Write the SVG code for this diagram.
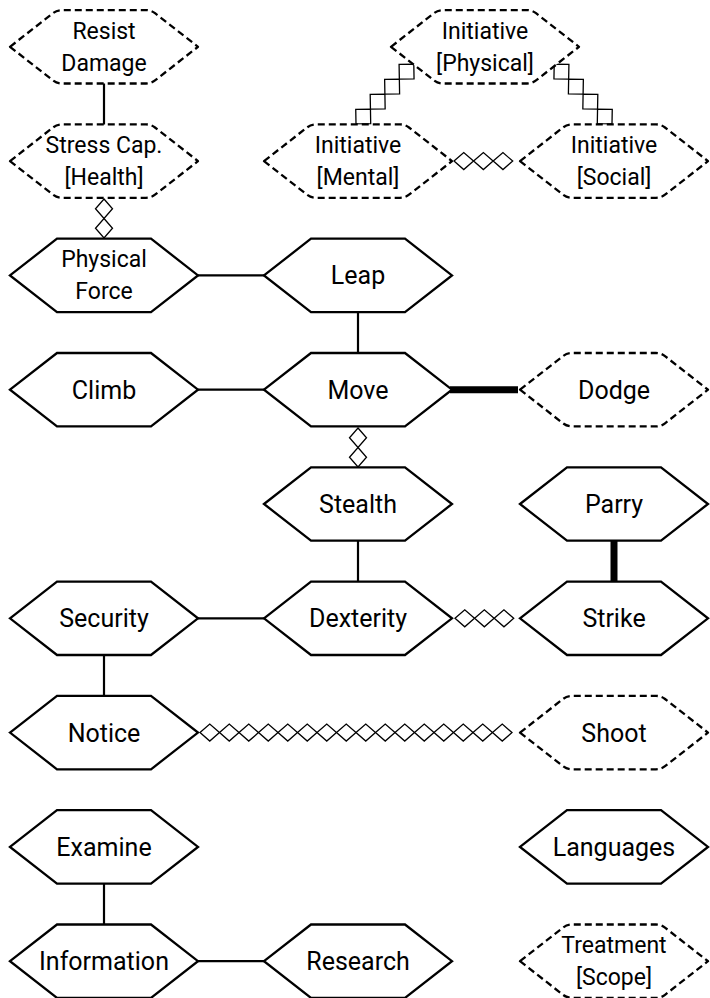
<svg xmlns="http://www.w3.org/2000/svg" xmlns:xlink="http://www.w3.org/1999/xlink" width="710" height="998" viewBox="0 0 710 998">
<style>
.hex{fill:#fff;stroke:#000;stroke-width:2.3;stroke-linejoin:miter}
.dhex{fill:#fff;stroke:#000;stroke-width:2.3;stroke-dasharray:7 4;stroke-linejoin:round}
.t{font-family:Roboto,"Liberation Sans",sans-serif;font-size:25px;fill:#000;text-anchor:middle}
.t2{font-family:Roboto,"Liberation Sans",sans-serif;font-size:23px;fill:#000;text-anchor:middle}
.ln{stroke:#000;stroke-width:2.2;fill:none}
.thick{stroke:#000;stroke-width:7;fill:none}
.dm{fill:#fff;stroke:#000;stroke-width:1.3}
</style>
<defs>
<polygon id="h" class="hex" points="-94,0 -47,-36.7 47,-36.7 94,0 47,36.7 -47,36.7"/>
<path id="dh" class="dhex" d="M-94,0 L-51,-33.6 Q-47,-36.7 -42,-36.7 L42,-36.7 Q47,-36.7 51,-33.6 L94,0 L51,33.6 Q47,36.7 42,36.7 L-42,36.7 Q-47,36.7 -51,33.6 Z"/>
<polygon id="d" class="dm" points="0,0 9.75,-8.5 19.5,0 9.75,8.5"/>
<polygon id="dd" class="dm" points="0,0 10.4,-10.4 20.8,0 10.4,10.4"/>
</defs>

<g id="connectors">
<line class="ln" x1="104" y1="83" x2="104" y2="125"/>
<line class="ln" x1="198" y1="275.4" x2="264" y2="275.4"/>
<line class="ln" x1="358" y1="312" x2="358" y2="353"/>
<line class="ln" x1="198" y1="389.7" x2="264" y2="389.7"/>
<line class="thick" x1="450" y1="389.7" x2="518" y2="389.7"/>
<line class="ln" x1="358" y1="540" x2="358" y2="582"/>
<line class="thick" x1="614" y1="540" x2="614" y2="582"/>
<line class="ln" x1="198" y1="618.3" x2="264" y2="618.3"/>
<line class="ln" x1="104" y1="655" x2="104" y2="696"/>
<line class="ln" x1="104" y1="883.6" x2="104" y2="924.5"/>
<line class="ln" x1="198" y1="961.2" x2="264" y2="961.2"/>
<g transform="translate(104,199) rotate(90)">
<use xlink:href="#d" x="0"/><use xlink:href="#d" x="19.5"/>
</g>
<g transform="translate(358,428) rotate(90)">
<use xlink:href="#d" x="0"/><use xlink:href="#d" x="19.5"/>
</g>
<g transform="translate(454,161.1)">
<use xlink:href="#d" x="0"/><use xlink:href="#d" x="19.6"/><use xlink:href="#d" x="39.2"/>
</g>
<g transform="translate(455,618.3)">
<use xlink:href="#d" x="0"/><use xlink:href="#d" x="19.6"/><use xlink:href="#d" x="39.2"/>
</g>
<g transform="translate(200,732.6)">
<use xlink:href="#d" x="0"/><use xlink:href="#d" x="19.5"/><use xlink:href="#d" x="39"/><use xlink:href="#d" x="58.5"/>
<use xlink:href="#d" x="78"/><use xlink:href="#d" x="97.5"/><use xlink:href="#d" x="117"/><use xlink:href="#d" x="136.5"/>
<use xlink:href="#d" x="156"/><use xlink:href="#d" x="175.5"/><use xlink:href="#d" x="195"/><use xlink:href="#d" x="214.5"/>
<use xlink:href="#d" x="234"/><use xlink:href="#d" x="253.5"/><use xlink:href="#d" x="273"/><use xlink:href="#d" x="292.5"/>
</g>
<g transform="translate(356,124) rotate(-46)">
<use xlink:href="#dd" x="0"/><use xlink:href="#dd" x="20.8"/><use xlink:href="#dd" x="41.6"/><use xlink:href="#dd" x="62.4"/>
</g>
<g transform="translate(612,124) rotate(-134)">
<use xlink:href="#dd" x="0"/><use xlink:href="#dd" x="20.8"/><use xlink:href="#dd" x="41.6"/><use xlink:href="#dd" x="62.4"/>
</g>
</g>

<g id="resist-damage" transform="translate(104,46.8)"><use xlink:href="#dh"/><text class="t2" y="-8">Resist</text><text class="t2" y="24">Damage</text></g>
<g id="initiative-physical" transform="translate(485,46.8)"><use xlink:href="#dh"/><text class="t2" y="-8">Initiative</text><text class="t2" y="24">[Physical]</text></g>
<g id="stress-cap" transform="translate(104,161.1)"><use xlink:href="#dh"/><text class="t2" y="-8">Stress Cap.</text><text class="t2" y="24">[Health]</text></g>
<g id="initiative-mental" transform="translate(358,161.1)"><use xlink:href="#dh"/><text class="t2" y="-8">Initiative</text><text class="t2" y="24">[Mental]</text></g>
<g id="initiative-social" transform="translate(614,161.1)"><use xlink:href="#dh"/><text class="t2" y="-8">Initiative</text><text class="t2" y="24">[Social]</text></g>
<g id="physical-force" transform="translate(104,275.4)"><use xlink:href="#h"/><text class="t2" y="-8">Physical</text><text class="t2" y="24">Force</text></g>
<g id="leap" transform="translate(358,275.4)"><use xlink:href="#h"/><text class="t" y="9">Leap</text></g>
<g id="climb" transform="translate(104,389.7)"><use xlink:href="#h"/><text class="t" y="9">Climb</text></g>
<g id="move" transform="translate(358,389.7)"><use xlink:href="#h"/><text class="t" y="9">Move</text></g>
<g id="dodge" transform="translate(614,389.7)"><use xlink:href="#dh"/><text class="t" y="9">Dodge</text></g>
<g id="stealth" transform="translate(358,504)"><use xlink:href="#h"/><text class="t" y="9">Stealth</text></g>
<g id="parry" transform="translate(614,504)"><use xlink:href="#h"/><text class="t" y="9">Parry</text></g>
<g id="security" transform="translate(104,618.3)"><use xlink:href="#h"/><text class="t" y="9">Security</text></g>
<g id="dexterity" transform="translate(358,618.3)"><use xlink:href="#h"/><text class="t" y="9">Dexterity</text></g>
<g id="strike" transform="translate(614,618.3)"><use xlink:href="#h"/><text class="t" y="9">Strike</text></g>
<g id="notice" transform="translate(104,732.6)"><use xlink:href="#h"/><text class="t" y="9">Notice</text></g>
<g id="shoot" transform="translate(614,732.6)"><use xlink:href="#dh"/><text class="t" y="9">Shoot</text></g>
<g id="examine" transform="translate(104,846.9)"><use xlink:href="#h"/><text class="t" y="9">Examine</text></g>
<g id="languages" transform="translate(614,846.9)"><use xlink:href="#h"/><text class="t" y="9">Languages</text></g>
<g id="information" transform="translate(104,961.2)"><use xlink:href="#h"/><text class="t" y="9">Information</text></g>
<g id="research" transform="translate(358,961.2)"><use xlink:href="#h"/><text class="t" y="9">Research</text></g>
<g id="treatment" transform="translate(614,961.2)"><use xlink:href="#dh"/><text class="t2" y="-8">Treatment</text><text class="t2" y="24">[Scope]</text></g>
</svg>
